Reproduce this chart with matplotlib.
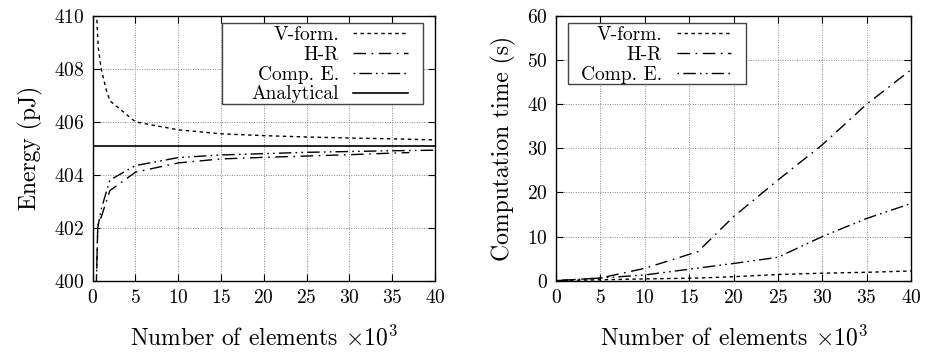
import numpy as np
import matplotlib
matplotlib.use("Agg")
from matplotlib import pyplot as plt
from matplotlib.patches import Rectangle

plt.rcParams['font.family'] = ['cmr10', 'DejaVu Serif']
plt.rcParams['mathtext.fontset'] = 'cm'
plt.rcParams['axes.formatter.use_mathtext'] = True
plt.rcParams['axes.unicode_minus'] = False

# energy plot data (x in thousands of elements)
x_vform_e = [0.3, 0.66, 1.0, 1.6, 2.0, 5, 10, 15, 20, 25, 30, 35, 40]
e_vform = [411.0, 408.8, 408.0, 407.2, 406.8, 406.0, 405.7, 405.55, 405.48, 405.43, 405.39, 405.36, 405.32]
x_hr_e = [0.4, 0.6, 1.0, 2.0, 5, 10, 15, 20, 25, 30, 35, 37]
e_hr = [399.5, 402.1, 402.4, 403.4, 404.1, 404.45, 404.6, 404.66, 404.71, 404.76, 404.82, 404.84]
x_ce_e = [0.4, 0.6, 1.0, 2.0, 5, 10, 15, 20, 25, 30, 35, 40]
e_ce = [399.5, 402.0, 402.7, 403.8, 404.35, 404.65, 404.75, 404.8, 404.85, 404.88, 404.91, 404.93]
e_analytical = 405.1

# computation time data
x_time = [0, 5, 10, 16, 20, 25, 30, 35, 40]
t_vform = [0.0, 0.2, 0.4, 0.6, 0.9, 1.4, 1.7, 1.9, 2.2]
t_hr = [0.0, 0.6, 2.8, 6.6, 14.5, 22.8, 30.8, 40.0, 47.8]
x_time_ce = [0, 5, 10, 15, 20, 25, 30, 35, 40]
t_ce = [0.0, 0.6, 1.3, 2.6, 3.9, 5.3, 10.0, 14.1, 17.5]

ls_vform = (0, (2.5, 2.5))
ls_hr = (0, (9, 4, 1.2, 4))
ls_ce = (0, (1.2, 3, 9, 3, 1.2, 3))
lw = 1.0

fig = plt.figure(figsize=(9.35, 3.52), dpi=100)
ax1 = fig.add_axes([0.0991, 0.2026, 0.3661, 0.7519])
ax2 = fig.add_axes([0.5947, 0.2026, 0.3796, 0.7519])


def style_axes(ax):
    ax.grid(True, color='#888888', linestyle=(0, (1, 1.5)), linewidth=0.7)
    ax.tick_params(direction='in', top=True, right=True, length=5, width=0.8,
                   labelsize=14, pad=6)
    for s in ax.spines.values():
        s.set_linewidth(1.0)
    ax.set_xlim(0, 40)
    ax.set_xticks(np.arange(0, 41, 5))
    ax.set_xlabel(r'Number of elements $\times 10^3$', fontsize=17, labelpad=13)


#gnuplot-like key: frameless legend + separate box
def add_key(ax, anchor, loc, box):
    leg = ax.legend(loc=loc, bbox_to_anchor=anchor, markerfirst=False, frameon=False,
                    fontsize=14, borderpad=0, labelspacing=0.1, handlelength=2.8,
                    handletextpad=0.75, borderaxespad=0)
    for t in leg.get_texts():
        t.set_ha('right')
    x0, y0, x1, y1 = box
    ax.add_patch(Rectangle((x0, y0), x1 - x0, y1 - y0, transform=ax.transAxes,
                           facecolor='white', edgecolor='#444444', linewidth=1.0, zorder=4))
    leg.set_zorder(5)
    return leg


# left: energy
ax1.plot(x_vform_e, e_vform, color='black', linestyle=ls_vform, linewidth=lw, label='V-form.')
ax1.plot(x_hr_e, e_hr, color='black', linestyle=ls_hr, linewidth=lw, label='H-R')
ax1.plot(x_ce_e, e_ce, color='black', linestyle=ls_ce, linewidth=lw, label='Comp. E.')
ax1.axhline(e_analytical, color='black', linewidth=1.2, label='Analytical')
ax1.set_ylim(400, 410)
ax1.set_yticks(np.arange(400, 411, 2))
ax1.set_ylabel('Energy (pJ)', fontsize=17, labelpad=8)
style_axes(ax1)
add_key(ax1, (0.921, 0.963), 'upper right', (0.377, 0.6676, 0.966, 0.9747))

# right: computation time
ax2.plot(x_time, t_vform, color='black', linestyle=ls_vform, linewidth=lw, label='V-form.')
ax2.plot(x_time, t_hr, color='black', linestyle=ls_hr, linewidth=lw, label='H-R')
ax2.plot(x_time_ce, t_ce, color='black', linestyle=ls_ce, linewidth=lw, label='Comp. E.')
ax2.set_ylim(0, 60)
ax2.set_yticks(np.arange(0, 61, 10))
ax2.set_ylabel('Computation time (s)', fontsize=17, labelpad=8)
style_axes(ax2)
add_key(ax2, (0.07, 0.963), 'upper left', (0.0338, 0.743, 0.534, 0.9747))

fig.savefig('out.png', dpi=100)
